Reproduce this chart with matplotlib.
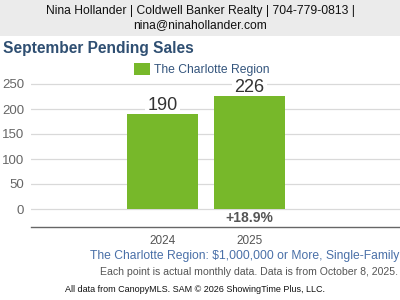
import matplotlib
matplotlib.use("Agg")
import matplotlib.pyplot as plt
from matplotlib.patches import Rectangle

plt.rcParams['font.family'] = ['Liberation Sans', 'DejaVu Sans']

years = ['2024', '2025']
pending = [190, 226]
change_label = '+18.9%'
series_name = 'The Charlotte Region'
yticks = [0, 50, 100, 150, 200, 250]

header = 'Nina Hollander | Coldwell Banker Realty | 704-779-0813 |\nnina@ninahollander.com'
title = 'September Pending Sales'
subtitle = 'The Charlotte Region: $1,000,000 or More, Single-Family'
note = 'Each point is actual monthly data. Data is from October 8, 2025.'
source = 'All data from CanopyMLS. SAM \u00a9 2026 ShowingTime Plus, LLC.'

green = '#77b82a'

fig = plt.figure(figsize=(4, 3), dpi=100)

# header band
fig.patches.append(Rectangle((0, 1 - 36 / 300), 1, 36 / 300, transform=fig.transFigure,
                             facecolor='#ebebeb', edgecolor='none', zorder=0))
fig.text(0.5, 1 - 18 / 300, header, ha='center', va='center', fontsize=8.7,
         color='#111111', linespacing=1.2)
fig.text(3 / 400, 1 - 48 / 300, title, ha='left', va='center', fontsize=11.2,
         fontweight='bold', color='#2f4f72')

ax = fig.add_axes([31 / 400, 1 - 227 / 300, 369 / 400, 147 / 300])
ax.set_axisbelow(True)
x = list(range(len(years)))
ax.bar(x, pending, width=0.815, color=green, zorder=2)
ax.set_xlim(-1.51, 2.73)
ax.set_ylim(-36, 258)
ax.set_yticks(yticks)
ax.set_xticks([])
ax.grid(axis='y', color='#d9d9d9', linewidth=0.9)
for s in ['top', 'right', 'left']:
    ax.spines[s].set_visible(False)
ax.spines['bottom'].set_color('#666666')
ax.spines['bottom'].set_linewidth(1.0)
ax.tick_params(axis='y', length=0, labelsize=9.5, labelcolor='#666666', pad=5)

# value labels sit under the bars so their white box only hides gridlines
for xi, v in zip(x, pending):
    ax.text(xi, v + 8, str(v), ha='center', va='baseline', fontsize=13, color='#333333',
            bbox=dict(facecolor='white', edgecolor='none', pad=1.5), zorder=1.8)

ax.text((x[0] + x[1]) / 2 + 0.5, -17, change_label, ha='center', va='center',
        fontsize=10, fontweight='bold', color='#555555')

for xi, lab in zip(x, years):
    fig.text((31 + (xi + 1.51) / 4.24 * 369) / 400, 1 - 241 / 300, lab, ha='center',
             va='center', fontsize=8.5, color='#555555')

# legend
fig.patches.append(Rectangle((134 / 400, 1 - 75 / 300), 16 / 400, 12 / 300,
                             transform=fig.transFigure, facecolor=green, edgecolor='none'))
fig.text(154 / 400, 1 - 70 / 300, series_name, ha='left', va='center', fontsize=8.7,
         color='#34557d')

fig.text(399 / 400, 1 - 256 / 300, subtitle, ha='right', va='center', fontsize=8.7,
         color='#4a70a8')
fig.text(398 / 400, 1 - 272 / 300, note, ha='right', va='center', fontsize=7.6,
         color='#555555')
fig.text(195 / 400, 1 - 290 / 300, source, ha='center', va='center', fontsize=6.5,
         color='#111111')

fig.savefig('out.png', dpi=100)
